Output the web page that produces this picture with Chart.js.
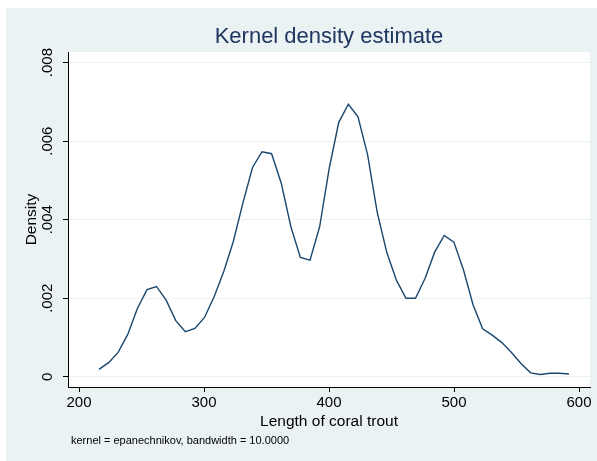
<!DOCTYPE html>
<html>
<head>
<meta charset="utf-8">
<script src="https://cdn.jsdelivr.net/npm/chart.js@4"></script>
<style>
  body { margin: 0; background: #ffffff; }
  canvas { display: block; }
</style>
</head>
<body>
<canvas id="kde" width="597" height="461"></canvas>
<script>
// evaluation points (length of coral trout)
const lengths = [216.0, 223.7, 231.3, 239.0, 246.7, 254.4, 262.0, 269.7, 277.4, 285.1,
  292.7, 300.4, 308.1, 315.8, 323.4, 331.1, 338.8, 346.4, 354.1, 361.8,
  369.5, 377.1, 384.8, 392.5, 400.2, 407.8, 415.5, 423.2, 430.9, 438.5,
  446.2, 453.9, 461.6, 469.2, 476.9, 484.6, 492.2, 499.9, 507.6, 515.3,
  522.9, 530.6, 538.3, 546.0, 553.6, 561.3, 569.0, 576.7, 584.3, 592.0];

// density values
const density = [0.00019, 0.00036, 0.00062, 0.00108, 0.00174, 0.00222, 0.00230, 0.00195, 0.00143, 0.00115,
  0.00123, 0.00151, 0.00204, 0.00268, 0.00344, 0.00442, 0.00533, 0.00573, 0.00568, 0.00493,
  0.00382, 0.00304, 0.00297, 0.00382, 0.00531, 0.00648, 0.00694, 0.00662, 0.00565, 0.00420,
  0.00317, 0.00246, 0.00200, 0.00200, 0.00251, 0.00318, 0.00360, 0.00343, 0.00272, 0.00183,
  0.00122, 0.00106, 0.00087, 0.00062, 0.00034, 0.00010, 0.00006, 0.00009, 0.00009, 0.00007];

const xTicks = [200, 300, 400, 500, 600];
const yTicks = [0, 0.002, 0.004, 0.006, 0.008];
const yTickLabels = ['0', '.002', '.004', '.006', '.008'];

const bg = '#EAF2F3';
const font = '"Liberation Sans", Arial, sans-serif';

let points = lengths.map((x, i) => ({ x: x, y: density[i] }));

// draws the stata-like frame, titles and rotated y labels
const decorations = {
  id: 'decorations',
  beforeDraw(chart) {
    const ctx = chart.ctx;
    const a = chart.chartArea;
    ctx.save();
    ctx.fillStyle = bg;
    ctx.fillRect(6, 8, 591, 453);
    ctx.fillStyle = '#ffffff';
    ctx.fillRect(a.left, a.top, a.right - a.left, a.bottom - a.top);
    ctx.restore();
  },
  afterDraw(chart) {
    const ctx = chart.ctx;
    const a = chart.chartArea;
    const yScale = chart.scales.y;
    ctx.save();

    // title
    ctx.fillStyle = '#1F3660';
    ctx.font = '22px ' + font;
    ctx.textAlign = 'center';
    ctx.textBaseline = 'middle';
    ctx.fillText('Kernel density estimate', (a.left + a.right) / 2, 37);

    // y tick labels, rotated
    ctx.fillStyle = '#000000';
    ctx.font = '15px ' + font;
    yTicks.forEach((v, i) => {
      const py = yScale.getPixelForValue(v);
      ctx.save();
      ctx.translate(48, py);
      ctx.rotate(-Math.PI / 2);
      ctx.textAlign = 'center';
      ctx.textBaseline = 'middle';
      ctx.fillText(yTickLabels[i], 0, 0);
      ctx.restore();
    });

    // y axis title
    ctx.save();
    ctx.font = '15.5px ' + font;
    ctx.translate(32, (a.top + a.bottom) / 2);
    ctx.rotate(-Math.PI / 2);
    ctx.textAlign = 'center';
    ctx.textBaseline = 'middle';
    ctx.fillText('Density', 0, 0);
    ctx.restore();

    // x axis title
    ctx.font = '15.5px ' + font;
    ctx.textAlign = 'center';
    ctx.textBaseline = 'middle';
    ctx.fillText('Length of coral trout', (a.left + a.right) / 2, 422);

    // note
    ctx.font = '11px ' + font;
    ctx.textAlign = 'left';
    ctx.fillText('kernel = epanechnikov, bandwidth = 10.0000', 71, 441);

    ctx.restore();
  }
};

const ctx = document.getElementById('kde').getContext('2d');

let chart = new Chart(ctx, {
  type: 'scatter',
  data: {
    datasets: [{
      data: points,
      showLine: true,
      borderColor: '#1a476f',
      borderWidth: 1.4,
      pointRadius: 0,
      tension: 0,
      fill: false
    }]
  },
  options: {
    responsive: false,
    devicePixelRatio: 1,
    animation: false,
    layout: { padding: { left: 0, top: 52, right: 7, bottom: 0 } },
    plugins: {
      legend: { display: false },
      tooltip: { enabled: false },
      title: { display: false }
    },
    scales: {
      x: {
        type: 'linear',
        min: 191.2,
        max: 608.8,
        afterBuildTicks: axis => { axis.ticks = xTicks.map(v => ({ value: v })); },
        afterFit: axis => { axis.height = 74; },
        border: { display: true, color: '#000000', width: 1 },
        grid: {
          drawOnChartArea: false,
          drawTicks: true,
          tickLength: 5,
          tickColor: '#000000'
        },
        ticks: {
          color: '#000000',
          font: { family: font, size: 15 },
          padding: 2,
          maxRotation: 0,
          callback: v => String(v)
        }
      },
      y: {
        type: 'linear',
        min: -0.00026,
        max: 0.00827,
        afterBuildTicks: axis => { axis.ticks = yTicks.map(v => ({ value: v })); },
        afterFit: axis => { axis.width = 68; },
        border: { display: true, color: '#000000', width: 1 },
        grid: {
          color: bg,
          lineWidth: 1,
          drawTicks: true,
          tickLength: 5,
          tickColor: '#000000'
        },
        ticks: { display: false }
      }
    }
  },
  plugins: [decorations]
});
</script>
</body>
</html>
